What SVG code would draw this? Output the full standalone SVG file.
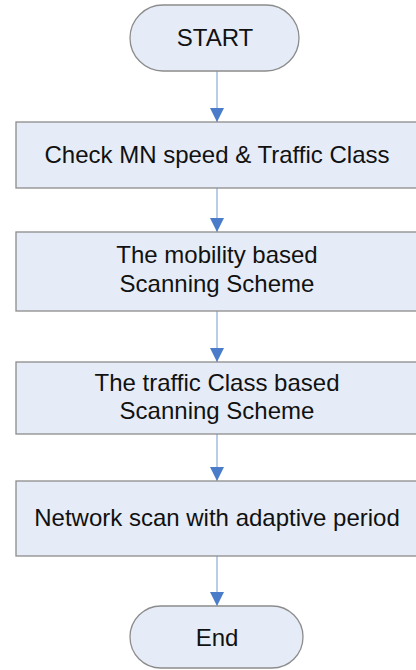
<svg xmlns="http://www.w3.org/2000/svg" width="416" height="670" viewBox="0 0 416 670">
<style>
.n{fill:#E6ECF7;stroke:#8C8C8C;stroke-width:1.3}
.t{font-family:"Liberation Sans",Arial,sans-serif;font-size:24px;fill:#111;text-anchor:middle}
.c{stroke:#A3BCE0;stroke-width:1.5;fill:none}
</style>
<defs>
<marker id="ah" markerUnits="userSpaceOnUse" markerWidth="14" markerHeight="14" refX="12" refY="6" orient="auto" viewBox="0 0 12 12">
<path d="M0,0 L12,6 L0,12 Z" fill="#4A7CC9"/>
</marker>
</defs>
<rect width="416" height="670" fill="#fff"/>
<g id="connectors">
<line class="c" x1="217" y1="71" x2="217" y2="122" marker-end="url(#ah)"/>
<line class="c" x1="217" y1="188" x2="217" y2="232" marker-end="url(#ah)"/>
<line class="c" x1="217" y1="311" x2="217" y2="362" marker-end="url(#ah)"/>
<line class="c" x1="217" y1="434" x2="217" y2="481" marker-end="url(#ah)"/>
<line class="c" x1="217" y1="556" x2="217" y2="606" marker-end="url(#ah)"/>
</g>
<g id="start">
<rect class="n" x="130" y="5" width="169" height="66" rx="33"/>
<text class="t" x="215" y="46">START</text>
</g>
<g id="check">
<rect class="n" x="16" y="122" width="402" height="66"/>
<text class="t" x="217" y="163">Check MN speed &amp; Traffic Class</text>
</g>
<g id="mobility">
<rect class="n" x="16" y="232" width="402" height="79"/>
<text class="t" x="217" y="263">The mobility based</text>
<text class="t" x="217" y="292">Scanning Scheme</text>
</g>
<g id="traffic">
<rect class="n" x="16" y="362" width="402" height="72"/>
<text class="t" x="217" y="391">The traffic Class based</text>
<text class="t" x="217" y="419">Scanning Scheme</text>
</g>
<g id="network">
<rect class="n" x="16" y="481" width="402" height="75"/>
<text class="t" x="217" y="526">Network scan with adaptive period</text>
</g>
<g id="end">
<rect class="n" x="130" y="606" width="173" height="62" rx="31"/>
<text class="t" x="217" y="646">End</text>
</g>
</svg>
